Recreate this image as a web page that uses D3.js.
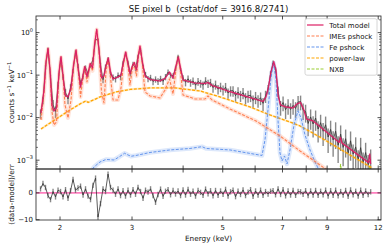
<!DOCTYPE html>
<html lang="en">
<head>
<meta charset="UTF-8">
<title>SE pixel b</title>
<script src="https://cdn.jsdelivr.net/npm/d3@7/dist/d3.min.js"></script>
<style>
  body { margin: 0; background: #fff; }
  svg { display: block; font-family: "DejaVu Sans", sans-serif; }
</style>
</head>
<body>
<svg id="chart"></svg>
<script>
// ---- observed spectrum (counts s^-1 keV^-1), relative error, residuals ----
const dataE = [1.792,1.817,1.843,1.869,1.896,1.923,1.950,1.978,2.006,2.034,
  2.063,2.092,2.122,2.152,2.182,2.213,2.245,2.277,2.309,2.342,
  2.375,2.408,2.443,2.477,2.512,2.548,2.584,2.621,2.658,2.696,
  2.734,2.773,2.812,2.852,2.892,2.933,2.975,3.017,3.060,3.103,
  3.147,3.192,3.237,3.283,3.330,3.377,3.425,3.473,3.523,3.573,
  3.623,3.675,3.727,3.780,3.833,3.888,3.943,3.999,4.055,4.113,
  4.171,4.230,4.290,4.351,4.413,4.475,4.539,4.603,4.668,4.734,
  4.801,4.870,4.939,5.009,5.080,5.152,5.225,5.299,5.374,5.450,
  5.527,5.606,5.685,5.766,5.848,5.931,6.015,6.100,6.187,6.274,
  6.363,6.454,6.545,6.638,6.732,6.828,6.925,7.023,7.123,7.224,
  7.326,7.430,7.536,7.643,7.751,7.861,7.973,8.086,8.201,8.317,
  8.435,8.555,8.676,8.799,8.924,9.051,9.179,9.310,9.442,9.576,
  9.712,9.849,9.989,10.13,10.27,10.42,10.57,10.72,10.87,11.02,
  11.18,11.34,11.50];
const dataRate = [0.0125,0.026,0.154,0.41,0.089,0.020,0.0141,0.059,0.233,0.091,
  0.039,0.0276,0.051,0.124,0.35,0.166,0.063,0.094,0.151,0.107,
  0.170,0.233,0.68,0.69,0.174,0.078,0.158,0.241,0.107,0.089,
  0.081,0.100,0.090,0.195,0.316,0.198,0.109,0.184,0.144,0.279,
  0.40,0.157,0.103,0.082,0.087,0.071,0.080,0.0713,0.0825,0.0716,
  0.091,0.118,0.099,0.096,0.141,0.275,0.133,0.085,0.068,0.082,
  0.0665,0.073,0.058,0.071,0.064,0.058,0.074,0.064,0.067,0.051,
  0.060,0.047,0.053,0.045,0.052,0.038,0.043,0.043,0.033,0.040,
  0.033,0.0385,0.029,0.0327,0.0336,0.0253,0.0305,0.0254,0.0294,0.0217,
  0.0325,0.0466,0.106,0.195,0.133,0.0424,0.0179,0.0227,0.0154,0.0194,
  0.0156,0.0194,0.0165,0.0234,0.0239,0.0152,0.0139,0.0073,0.0104,0.0071,
  0.0098,0.0054,0.0076,0.0048,0.0068,0.0035,0.0053,0.0030,0.0048,0.00225,
  0.0041,0.0020,0.0032,0.00147,0.00285,0.00139,0.00205,0.00101,0.00197,0.00089,
  0.00151,0.00078,0.00105];
const dataRelErr = [0.25,0.2,0.12,0.08,0.15,0.3,0.3,0.18,0.1,0.15,
  0.22,0.25,0.2,0.12,0.09,0.12,0.2,0.15,0.12,0.14,
  0.12,0.12,0.06,0.06,0.12,0.17,0.12,0.1,0.15,0.17,
  0.17,0.16,0.16,0.12,0.1,0.12,0.15,0.12,0.13,0.1,
  0.08,0.12,0.16,0.17,0.17,0.18,0.17,0.18,0.17,0.18,
  0.17,0.15,0.15,0.16,0.12,0.09,0.12,0.17,0.2,0.2,
  0.2,0.2,0.21,0.21,0.21,0.22,0.21,0.22,0.22,0.24,
  0.24,0.25,0.25,0.26,0.26,0.27,0.27,0.28,0.28,0.29,
  0.29,0.3,0.3,0.31,0.31,0.32,0.32,0.33,0.33,0.34,
  0.32,0.25,0.17,0.13,0.15,0.28,0.38,0.38,0.4,0.4,
  0.4,0.4,0.4,0.38,0.38,0.42,0.45,0.5,0.5,0.52,
  0.5,0.52,0.54,0.55,0.56,0.58,0.6,0.6,0.62,0.62,
  0.6,0.64,0.64,0.66,0.66,0.68,0.68,0.7,0.7,0.7,
  0.7,0.7,0.7];
const residual = [1.5,3.5,2.0,-1.0,-2.5,0.5,-1.5,1.0,0.5,-1.5,
  1.2,-2.0,0.8,5.0,1.0,1.8,2.5,-0.8,1.5,-1.2,
  -2.5,2.8,5.5,-9.0,-4.0,1.5,0.5,7.0,2.0,1.0,
  -0.5,1.5,-1.0,0.8,-1.2,1.0,-0.8,1.2,-0.5,2.0,
  0.5,-2.0,1.0,0.3,1.5,-1.0,-3.5,-0.6,1.4,-1.3,
  0.6,1.2,-0.7,0.9,-0.4,0.7,-1.0,1.1,-0.8,1.3,
  -0.5,0.6,-1.2,0.9,0.2,-0.9,1.4,-0.3,0.8,-1.1,
  0.9,-0.9,0.7,-0.5,1.3,-1.2,0.4,1.0,-1.4,0.6,
  -0.6,1.1,-1.0,0.3,1.2,-1.3,0.7,-0.8,1.0,-0.9,
  0.5,-0.4,0.6,0.8,-0.7,1.5,-0.6,1.2,-1.1,0.7,
  -0.8,0.9,-0.9,0.5,0.4,-0.5,0.8,-1.0,0.7,-0.8,
  0.9,-0.9,0.6,-0.7,1.0,-1.2,0.8,-0.9,1.0,-1.1,
  0.5,-0.8,0.9,-1.3,1.1,-0.7,0.6,-1.2,1.0,-0.9,
  0.7,-0.6,0.4];

// ---- model components ----
const totalE = [1.797,1.828,1.848,1.869,1.891,1.912,1.934,1.961,1.989,2.011,
  2.034,2.057,2.092,2.128,2.158,2.189,2.220,2.245,2.270,2.298,
  2.328,2.372,2.402,2.429,2.459,2.491,2.526,2.562,2.591,2.625,
  2.658,2.696,2.772,2.820,2.860,2.895,2.933,2.966,3.005,3.039,
  3.077,3.108,3.138,3.174,3.228,3.320,3.512,3.613,3.705,3.779,
  3.843,3.894,3.942,3.998,4.277,4.525,4.602,4.707,5.209,6.272,
  6.379,6.470,6.561,6.666,6.749,6.837,6.922,7.139,7.427,7.596,
  7.747,7.879,8.013,8.173,8.312,9.63,9.70,9.78,11.36,11.44,11.50];
const totalRate = [0.0129,0.0449,0.2045,0.430,0.1326,0.0189,0.0144,0.0169,0.1189,0.272,
  0.1011,0.0342,0.0307,0.0500,0.174,0.392,0.1189,0.0528,0.0859,0.160,
  0.0907,0.1885,0.1477,0.514,1.20,0.392,0.0859,0.0958,0.1646,0.254,
  0.1189,0.0814,0.0907,0.1011,0.2045,0.351,0.183,0.1067,0.1646,0.199,
  0.1326,0.283,0.486,0.228,0.0958,0.0792,0.0730,0.0836,0.1189,0.0859,
  0.1646,0.268,0.1477,0.0771,0.0655,0.0638,0.0673,0.0572,0.0409,0.0241,
  0.0307,0.0528,0.1189,0.208,0.1326,0.0307,0.0199,0.0179,0.0169,0.0210,
  0.0228,0.0160,0.0093,0.0088,0.0084,0.00262,0.00342,0.00254,0.00088,0.00140,0.00081];

const imesE = [1.797,1.828,1.848,1.869,1.891,1.912,1.934,1.961,1.989,2.011,
  2.034,2.057,2.092,2.128,2.158,2.189,2.220,2.245,2.270,2.298,
  2.328,2.372,2.402,2.429,2.459,2.491,2.526,2.562,2.591,2.625,
  2.658,2.696,2.772,2.820,2.860,2.895,2.933,2.966,3.005,3.039,
  3.077,3.108,3.138,3.174,3.228,3.320,3.512,3.613,3.705,3.779,
  3.843,3.894,3.942,3.998,4.277,4.525,4.602,4.707,5.209,6.030,
  6.902,7.726,8.646,8.993,9.953];
const imesRate = [0.00883,0.0381,0.1937,0.418,0.1256,0.0136,0.00673,0.00792,0.1067,0.265,
  0.0907,0.0199,0.00984,0.0261,0.156,0.381,0.1067,0.0307,0.0730,0.152,
  0.0692,0.179,0.1256,0.500,1.189,0.371,0.0402,0.0222,0.1189,0.2405,
  0.0859,0.0261,0.0261,0.0500,0.1834,0.342,0.1646,0.0588,0.1399,0.1834,
  0.0958,0.268,0.473,0.2045,0.0402,0.0324,0.0291,0.0449,0.0814,0.0361,
  0.1399,0.261,0.1189,0.0342,0.0275,0.0275,0.0324,0.0261,0.0160,0.00837,
  0.00371,0.00165,0.00077,0.000588,0.000307];

const feE = [2.368,2.422,2.505,2.591,2.711,2.788,2.876,2.933,2.983,3.068,
  3.320,3.716,4.158,4.449,4.551,5.209,6.237,6.343,6.451,6.561,
  6.654,6.749,6.825,6.902,6.981,7.080,7.180,7.302,7.468,7.639,
  7.769,7.946,8.173,8.406,8.646];
const feRate = [0.000500,0.000692,0.000907,0.001039,0.001010,0.00119,0.001454,0.001326,0.001235,0.00129,
  0.001518,0.00174,0.001885,0.00208,0.001885,0.00174,0.00129,0.00299,0.01518,0.0859,
  0.1937,0.0771,0.00883,0.001477,0.000958,0.001256,0.000814,0.00174,0.00673,0.01438,
  0.00984,0.00392,0.00174,0.000907,0.000528];

const plE = [1.797,1.891,2.000,2.116,2.238,2.315,2.342,2.505,2.741,2.966,3.320,
  3.822,4.400,4.924,5.829,6.524,7.302,7.726,8.173,9.146,10.24,11.59];
const plRate = [0.00542,0.00750,0.01067,0.01518,0.0210,0.0247,0.0228,0.0307,0.0402,0.0461,0.0500,
  0.0500,0.0425,0.0307,0.01786,0.01158,0.00792,0.00638,0.00473,0.00254,0.001326,0.000655];

const nxbE = [1.78,3.0,5.0,7.0,8.5,9.55,9.65,9.71,9.77,9.9,11.3,11.4,11.44,11.48,11.6];
const nxbRate = [0.00020,0.00024,0.00028,0.00032,0.00035,0.00037,0.00045,0.00080,0.00045,0.00038,
  0.00040,0.00048,0.00072,0.00048,0.00040];

// ---- ticks / labels ----
const xTicks = [2,3,4,5,6,7,8,9,12];
const xTickLabels = [2,3,5,7,9,12];
const yMajor = [1e-3,1e-2,1e-1,1];
const yMajorExp = ["\u22123","\u22122","\u22121","0"];
const resTicks = [-10,0];

const W = 388, H = 246;
const L = 36, R = 381, T = 16, M = 169, B = 220;

const svg = d3.select("#chart").attr("width", W).attr("height", H);

const x = d3.scaleLog().domain([1.747, 12.19]).range([L, R]);
const yTop = d3.scaleLog().domain([6.2e-4, 2.46]).range([M, T]);
const yRes = d3.scaleLinear().domain([-10.1, 8.9]).range([B, M]);

const defs = svg.append("defs");
defs.append("clipPath").attr("id", "clipTop").append("rect")
  .attr("x", L).attr("y", T).attr("width", R - L).attr("height", M - T);
defs.append("clipPath").attr("id", "clipRes").append("rect")
  .attr("x", L).attr("y", M).attr("width", R - L).attr("height", B - M);

const zip = (a, b) => a.map((e, i) => [e, b[i]]);
const bins = dataE.map((e, i) => ({ e: e, v: dataRate[i], r: dataRelErr[i], res: residual[i] }));

// ---------- top panel ----------
const gTop = svg.append("g").attr("clip-path", "url(#clipTop)");

gTop.selectAll(".eb").data(bins).join("line")
  .attr("x1", d => x(d.e)).attr("x2", d => x(d.e))
  .attr("y1", d => yTop(d.v * (1 - d.r))).attr("y2", d => yTop(d.v * (1 + d.r)))
  .attr("stroke", "#555").attr("stroke-width", 1.4).attr("stroke-opacity", 0.7);
gTop.append("path").datum(bins)
  .attr("d", d3.line().x(d => x(d.e)).y(d => yTop(d.v)))
  .attr("fill", "none").attr("stroke", "#333").attr("stroke-width", 0.8);

const lineTop = d3.line().x(d => x(d[0])).y(d => yTop(d[1]));

function drawModel(E, V, color, dash, width, band) {
  const pts = zip(E, V);
  if (band) {
    gTop.append("path").datum(pts).attr("d", lineTop)
      .attr("fill", "none").attr("stroke", color).attr("stroke-opacity", 0.22)
      .attr("stroke-width", band).attr("stroke-linejoin", "round");
  }
  gTop.append("path").datum(pts).attr("d", lineTop)
    .attr("fill", "none").attr("stroke", color).attr("stroke-width", width)
    .attr("stroke-dasharray", dash).attr("stroke-linejoin", "round");
}

drawModel(nxbE, nxbRate, "#9acd32", "3,1.5", 1.1, 0);
drawModel(plE, plRate, "#ffa500", "3,1.5", 1.3, 2.2);
drawModel(feE, feRate, "#6495ed", "3,1.5", 1.0, 4.5);
drawModel(imesE, imesRate, "#ff7f50", "3,1.5", 1.1, 4);
drawModel(totalE, totalRate, "#dc1e64", null, 1.1, 2);

// ---------- residual panel ----------
const gRes = svg.append("g").attr("clip-path", "url(#clipRes)");
gRes.append("line").attr("x1", L).attr("x2", R).attr("y1", yRes(0)).attr("y2", yRes(0))
  .attr("stroke", "#ff69b4").attr("stroke-width", 1.6).attr("stroke-opacity", 0.85);
gRes.selectAll(".reb").data(bins).join("line")
  .attr("x1", d => x(d.e)).attr("x2", d => x(d.e))
  .attr("y1", d => yRes(d.res - 1)).attr("y2", d => yRes(d.res + 1))
  .attr("stroke", "#555").attr("stroke-width", 1.4).attr("stroke-opacity", 0.7);
gRes.append("path").datum(bins)
  .attr("d", d3.line().x(d => x(d.e)).y(d => yRes(d.res)))
  .attr("fill", "none").attr("stroke", "#333").attr("stroke-width", 0.8);

// ---------- frames ----------
svg.append("rect").attr("x", L).attr("y", T).attr("width", R - L).attr("height", M - T)
  .attr("fill", "none").attr("stroke", "#222").attr("stroke-width", 0.8);
svg.append("rect").attr("x", L).attr("y", M).attr("width", R - L).attr("height", B - M)
  .attr("fill", "none").attr("stroke", "#222").attr("stroke-width", 0.8);

// ---------- ticks ----------
const ticks = svg.append("g").attr("stroke", "#222").attr("stroke-width", 0.8);
[[T, 1], [M, -1], [M, 1], [B, -1]].forEach(([y0, dir]) => {
  ticks.selectAll(null).data(xTicks).join("line")
    .attr("x1", d => x(d)).attr("x2", d => x(d))
    .attr("y1", y0).attr("y2", y0 + dir * 3.5);
});

const yMinor = [];
for (let p = -4; p <= 0; p++) {
  for (let m = 2; m <= 9; m++) {
    const v = m * Math.pow(10, p);
    if (v > 6.2e-4 && v < 2.46) yMinor.push(v);
  }
}
[[L, 1], [R, -1]].forEach(([x0, dir]) => {
  ticks.selectAll(null).data(yMajor).join("line")
    .attr("x1", x0).attr("x2", x0 + dir * 3.5)
    .attr("y1", d => yTop(d)).attr("y2", d => yTop(d));
  ticks.selectAll(null).data(yMinor).join("line")
    .attr("x1", x0).attr("x2", x0 + dir * 2)
    .attr("y1", d => yTop(d)).attr("y2", d => yTop(d)).attr("stroke-width", 0.6);
  ticks.selectAll(null).data(resTicks).join("line")
    .attr("x1", x0).attr("x2", x0 + dir * 3.5)
    .attr("y1", d => yRes(d)).attr("y2", d => yRes(d));
});

// tick labels
const labels = svg.append("g").attr("fill", "#111").style("font-size", "7px");
labels.selectAll(null).data(xTickLabels).join("text")
  .attr("x", d => x(d)).attr("y", 230).attr("text-anchor", "middle").text(d => d);

yMajor.forEach((v, i) => {
  const t = labels.append("text").attr("x", L - 3).attr("y", yTop(v) + 2.5).attr("text-anchor", "end");
  t.append("tspan").text("10");
  t.append("tspan").attr("dy", -3.2).style("font-size", "5px").text(yMajorExp[i]);
});
labels.selectAll(null).data(resTicks).join("text")
  .attr("x", L - 3).attr("y", d => yRes(d) + 2.5).attr("text-anchor", "end")
  .text(d => d < 0 ? "\u2212" + Math.abs(d) : d);

// axis titles
svg.append("text").attr("x", (L + R) / 2).attr("y", 240.5).attr("text-anchor", "middle")
  .style("font-size", "7.3px").attr("fill", "#111").text("Energy (keV)");

const yl = svg.append("text").attr("transform", `translate(13.5,${(T + M) / 2}) rotate(-90)`)
  .attr("text-anchor", "middle").style("font-size", "7.3px").attr("fill", "#111");
yl.append("tspan").text("counts s");
yl.append("tspan").attr("dy", -3).style("font-size", "5.2px").text("\u22121");
yl.append("tspan").attr("dy", 3).text(" keV");
yl.append("tspan").attr("dy", -3).style("font-size", "5.2px").text("\u22121");

svg.append("text").attr("transform", `translate(13.5,${(M + B) / 2}) rotate(-90)`)
  .attr("text-anchor", "middle").style("font-size", "7.3px").attr("fill", "#111")
  .text("(data-model)/err");

svg.append("text").attr("x", (L + R) / 2).attr("y", 12.3).attr("text-anchor", "middle")
  .style("font-size", "8.6px").attr("fill", "#111")
  .attr("xml:space", "preserve").text("SE pixel b  (cstat/dof = 3916.8/2741)");

// ---------- legend ----------
const legendItems = [
  { name: "Total model", color: "#dc1e64", dash: null },
  { name: "IMEs pshock", color: "#ff7f50", dash: "3,1.5" },
  { name: "Fe pshock", color: "#6495ed", dash: "3,1.5" },
  { name: "power-law", color: "#ffa500", dash: "3,1.5" },
  { name: "NXB", color: "#9acd32", dash: "3,1.5" }
];
const lg = svg.append("g");
lg.append("rect").attr("x", 305).attr("y", 18.7).attr("width", 72).attr("height", 56.5)
  .attr("rx", 2).attr("fill", "#fff").attr("fill-opacity", 0.85)
  .attr("stroke", "#ccc").attr("stroke-width", 0.8);
legendItems.forEach((d, i) => {
  const cy = 25 + i * 11;
  lg.append("line").attr("x1", 307).attr("x2", 323.5).attr("y1", cy).attr("y2", cy)
    .attr("stroke", d.color).attr("stroke-width", 1.2).attr("stroke-dasharray", d.dash);
  lg.append("text").attr("x", 329.3).attr("y", cy + 2.5).style("font-size", "7px")
    .attr("fill", "#111").text(d.name);
});
</script>
</body>
</html>
